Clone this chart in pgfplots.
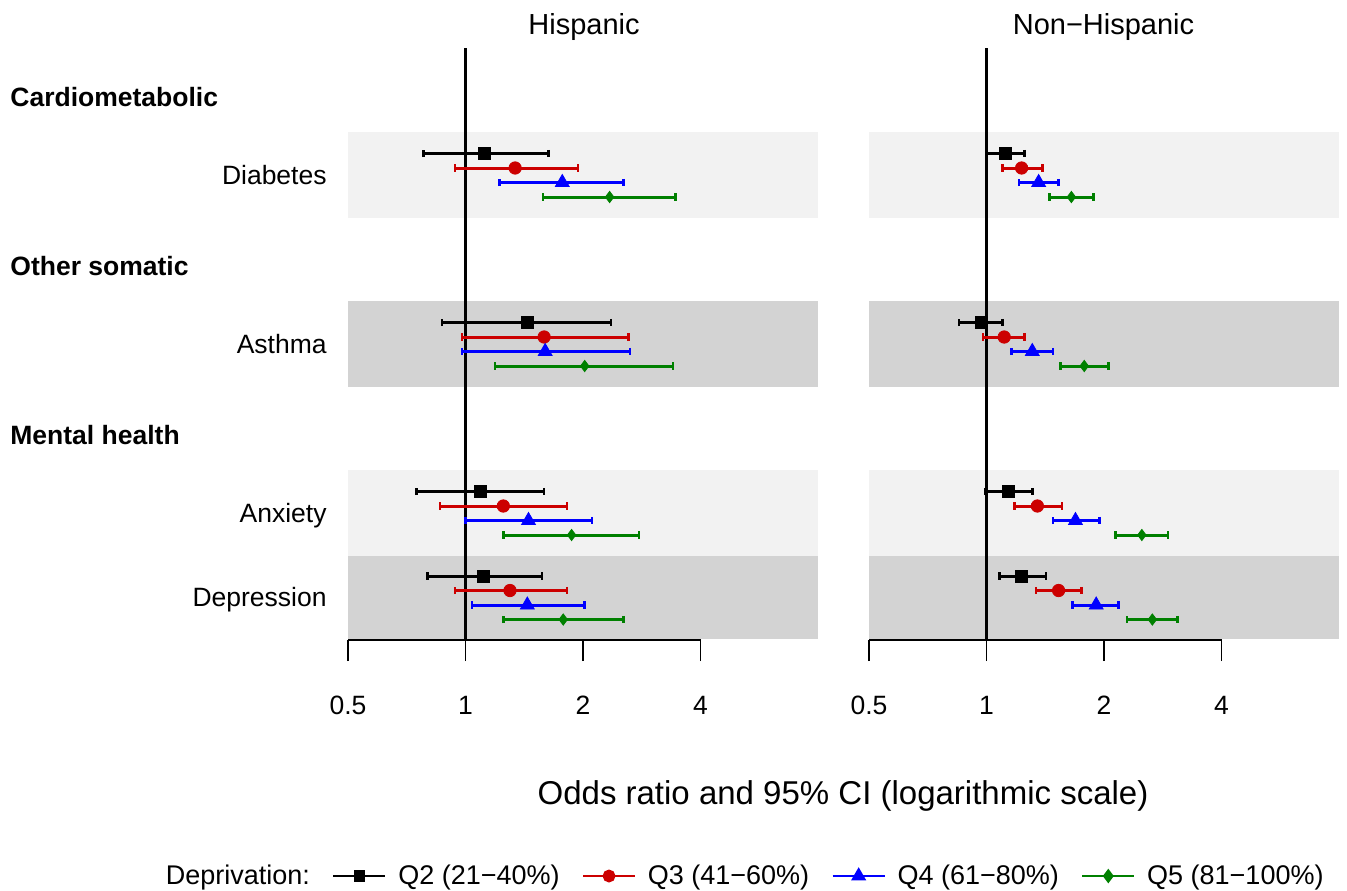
\documentclass[border=0pt]{standalone}
\usepackage{pgfplots}
\pgfplotsset{compat=1.18}
\usepackage{pgfplotstable}
\usepackage{fontspec}
\setmainfont{Liberation Sans}
\definecolor{cQtwo}{HTML}{000000}
\definecolor{cQthree}{HTML}{CC0000}
\definecolor{cQfour}{HTML}{0000FF}
\definecolor{cQfive}{HTML}{008000}
\definecolor{bandA}{HTML}{F2F2F2}
\definecolor{bandB}{HTML}{D3D3D3}
\newcommand{\myfs}{\fontsize{13.25pt}{15pt}\selectfont}

% Hispanic
\pgfplotstableread{
y est lo hi
-153.5 1.12 0.78 1.63
-322.5 1.44 0.87 2.36
-491.5 1.09 0.75 1.59
-576 1.11 0.80 1.57
}\hQtwo
\pgfplotstableread{
y est lo hi
-168 1.34 0.94 1.94
-337 1.59 0.98 2.62
-506 1.25 0.86 1.82
-590.5 1.30 0.94 1.82
}\hQthree
\pgfplotstableread{
y est lo hi
-182.5 1.77 1.22 2.54
-351.5 1.60 0.98 2.64
-520.5 1.45 1.00 2.11
-605 1.44 1.04 2.02
}\hQfour
\pgfplotstableread{
y est lo hi
-197 2.34 1.58 3.45
-366 2.02 1.19 3.40
-535 1.87 1.25 2.78
-619.5 1.78 1.25 2.54
}\hQfive
% Non-Hispanic
\pgfplotstableread{
y est lo hi
-153.5 1.12 1.00 1.25
-322.5 0.97 0.85 1.10
-491.5 1.14 0.99 1.31
-576 1.23 1.08 1.42
}\nQtwo
\pgfplotstableread{
y est lo hi
-168 1.23 1.10 1.39
-337 1.11 0.98 1.25
-506 1.35 1.18 1.56
-590.5 1.53 1.34 1.75
}\nQthree
\pgfplotstableread{
y est lo hi
-182.5 1.36 1.21 1.53
-351.5 1.31 1.16 1.48
-520.5 1.69 1.48 1.95
-605 1.91 1.66 2.18
}\nQfour
\pgfplotstableread{
y est lo hi
-197 1.65 1.45 1.88
-366 1.78 1.55 2.05
-535 2.50 2.14 2.92
-619.5 2.66 2.29 3.09
}\nQfive

\newcommand{\drawbands}{%
  \fill[bandA] (axis cs:0.5,-132) rectangle (axis cs:8,-218);
  \fill[bandB] (axis cs:0.5,-301) rectangle (axis cs:8,-387);
  \fill[bandA] (axis cs:0.5,-469.5) rectangle (axis cs:8,-555.5);
  \fill[bandB] (axis cs:0.5,-555.5) rectangle (axis cs:8,-639);
  \draw[line width=0.8pt] (axis cs:0.5,-640) -- (axis cs:4,-640);
  \draw[line width=1.1pt] (axis cs:1,-48) -- (axis cs:1,-640);
}
\newcommand{\drawseries}[4]{%
  \addplot[only marks, mark=square*, mark size=3pt, color=cQtwo,
    error bars/.cd, x dir=both, x explicit, error mark=|,
    error bar style={line width=1.5pt, cQtwo}, error mark options={line width=1.3pt, cQtwo, mark size=1.8pt}]
    table[x=est, y=y, x error plus expr=\thisrow{hi}-\thisrow{est}, x error minus expr=\thisrow{est}-\thisrow{lo}] {#1};
  \addplot[only marks, mark=*, mark size=3.1pt, color=cQthree,
    error bars/.cd, x dir=both, x explicit, error mark=|,
    error bar style={line width=1.5pt, cQthree}, error mark options={line width=1.3pt, cQthree, mark size=1.8pt}]
    table[x=est, y=y, x error plus expr=\thisrow{hi}-\thisrow{est}, x error minus expr=\thisrow{est}-\thisrow{lo}] {#2};
  \addplot[only marks, mark=triangle*, mark size=4pt, color=cQfour,
    error bars/.cd, x dir=both, x explicit, error mark=|,
    error bar style={line width=1.5pt, cQfour}, error mark options={line width=1.3pt, cQfour, mark size=1.8pt}]
    table[x=est, y=y, x error plus expr=\thisrow{hi}-\thisrow{est}, x error minus expr=\thisrow{est}-\thisrow{lo}] {#3};
  \addplot[only marks, mark=diamond*, mark size=2.8pt, color=cQfive,
    error bars/.cd, x dir=both, x explicit, error mark=|,
    error bar style={line width=1.5pt, cQfive}, error mark options={line width=1.3pt, cQfive, mark size=1.8pt}]
    table[x=est, y=y, x error plus expr=\thisrow{hi}-\thisrow{est}, x error minus expr=\thisrow{est}-\thisrow{lo}] {#4};
}

\begin{document}
\begin{tikzpicture}[x=0.5pt,y=-0.5pt]
\useasboundingbox (0,0) rectangle (1347,890);

\begin{axis}[at={(174pt,-320pt)}, anchor=south west,
    scale only axis, width=235pt, height=296pt,
    xmode=log, log basis x=2, xmin=0.5, xmax=8,
    ymin=-640, ymax=-48, clip=false,
    axis x line=bottom, hide y axis,
    x axis line style={draw=none},
    xtick={0.5,1,2,4}, xticklabels={0.5,1,2,4},
    minor xtick={},
    tick align=outside, major tick length=10.5pt,
    xtick style={line width=0.8pt, black},
    xticklabel style={font=\myfs, anchor=center, yshift=-22pt}]
\drawbands
\drawseries{\hQtwo}{\hQthree}{\hQfour}{\hQfive}
\end{axis}

\begin{axis}[at={(434.5pt,-320pt)}, anchor=south west,
    scale only axis, width=235pt, height=296pt,
    xmode=log, log basis x=2, xmin=0.5, xmax=8,
    ymin=-640, ymax=-48, clip=false,
    axis x line=bottom, hide y axis,
    x axis line style={draw=none},
    xtick={0.5,1,2,4}, xticklabels={0.5,1,2,4},
    minor xtick={},
    tick align=outside, major tick length=10.5pt,
    xtick style={line width=0.8pt, black},
    xticklabel style={font=\myfs, anchor=center, yshift=-22pt}]
\drawbands
\drawseries{\nQtwo}{\nQthree}{\nQfour}{\nQfive}
\end{axis}

\begin{axis}[at={(370.5pt,-438pt)}, anchor=center, hide axis,
    scale only axis, width=20pt, height=10pt, xmin=0, xmax=1, ymin=0, ymax=1,
    legend columns=5,
    legend image code/.code={\draw[mark repeat=2,mark phase=2,#1] plot coordinates {(0pt,0pt) (13pt,0pt) (26pt,0pt)};},
    legend style={draw=none, fill=none, font=\fontsize{13.5pt}{15pt}\selectfont, at={(0.5,0.5)}, anchor=center,
      /tikz/every odd column/.append style={column sep=3.75pt},
      /tikz/every even column/.append style={column sep=9pt}}]
\addlegendimage{empty legend}\addlegendentry{Deprivation:}
\addlegendimage{cQtwo, line width=1.4pt, mark=square*, mark size=2.2pt}\addlegendentry{Q2 (21−40\%)}
\addlegendimage{cQthree, line width=1.4pt, mark=*, mark size=2.5pt}\addlegendentry{Q3 (41−60\%)}
\addlegendimage{cQfour, line width=1.4pt, mark=triangle*, mark size=3pt}\addlegendentry{Q4 (61−80\%)}
\addlegendimage{cQfive, line width=1.4pt, mark=diamond*, mark size=2.5pt}\addlegendentry{Q5 (81−100\%)}
\end{axis}

\node[font=\fontsize{14.5pt}{16pt}\selectfont, anchor=base] at (584,34) {Hispanic};
\node[font=\fontsize{14.5pt}{16pt}\selectfont, anchor=base] at (1103.5,34) {Non−Hispanic};

\node[font=\myfs\bfseries, anchor=base west, inner sep=0pt] at (10,106.7) {Cardiometabolic};
\node[font=\myfs\bfseries, anchor=base west, inner sep=0pt] at (10,275.7) {Other somatic};
\node[font=\myfs\bfseries, anchor=base west, inner sep=0pt] at (10,444.7) {Mental health};

\node[font=\myfs, anchor=base east, inner sep=0pt] at (327,184.3) {Diabetes};
\node[font=\myfs, anchor=base east, inner sep=0pt] at (327,353.3) {Asthma};
\node[font=\myfs, anchor=base east, inner sep=0pt] at (327,522.3) {Anxiety};
\node[font=\myfs, anchor=base east, inner sep=0pt] at (327,606.8) {Depression};

\node[font=\fontsize{16.5pt}{18pt}\selectfont, anchor=base] at (843,804) {Odds ratio and 95\% CI (logarithmic scale)};
\end{tikzpicture}
\end{document}
